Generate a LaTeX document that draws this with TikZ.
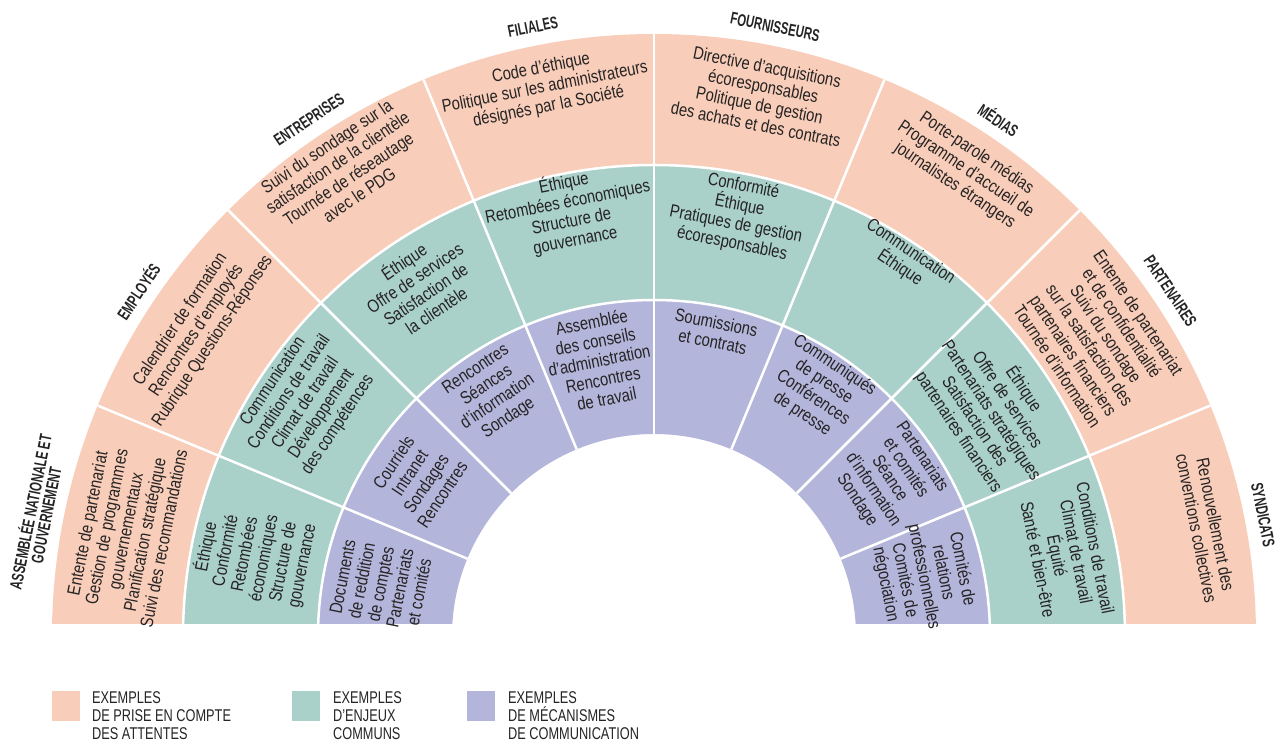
\documentclass[tikz,border=0pt]{standalone}
\usepackage{fontspec}
\setmainfont{Liberation Sans}[FakeStretch=0.82]
\newfontfamily\lblfont{Liberation Sans}[FakeStretch=0.67]
\newfontfamily\legfont{Liberation Sans}[FakeStretch=0.75]
\definecolor{peach}{HTML}{F8CDB9}
\definecolor{tealc}{HTML}{AAD0CA}
\definecolor{lav}{HTML}{B4B5DB}
\definecolor{ink}{HTML}{252323}
\begin{document}
\begin{tikzpicture}[x=1pt,y=1pt,
  txt/.style={align=center, text=ink, font=\fontsize{18}{19.5}\selectfont, inner sep=0pt},
  lbl/.style={align=center, text=ink, font=\lblfont\bfseries\fontsize{17}{16}\selectfont, inner sep=0pt},
  leg/.style={align=left, text=ink, font=\legfont\fontsize{17}{18}\selectfont, anchor=north west, inner sep=0pt},
  sepline/.style={white, line width=2.5pt},
  legbox/.style={minimum width=28pt, minimum height=30pt, inner sep=0pt, anchor=north west}]
\useasboundingbox (-654,-108) rectangle (631,636);
% rings
\begin{scope}
\clip (-620,12) rectangle (620,620);
\fill[peach] (0:602pt) arc[start angle=0,end angle=180,radius=602pt] -- (180:471pt) arc[start angle=180,end angle=0,radius=471pt] -- cycle;
\fill[tealc] (0:471pt) arc[start angle=0,end angle=180,radius=471pt] -- (180:336pt) arc[start angle=180,end angle=0,radius=336pt] -- cycle;
\fill[lav] (0:336pt) arc[start angle=0,end angle=180,radius=336pt] -- (180:202pt) arc[start angle=180,end angle=0,radius=202pt] -- cycle;
\foreach \a in {22.5,45,67.5,90,112.5,135,157.5}
  \draw[sepline] (\a:202pt) -- (\a:602pt);
\draw[sepline] (0:471pt) arc[start angle=0,end angle=180,radius=471pt];
\draw[sepline] (0:336pt) arc[start angle=0,end angle=180,radius=336pt];
\end{scope}
% outer ring texts
\node[txt, rotate=78.75] (p0) at (168.75:539pt) {Entente de partenariat\\Gestion de programmes\\gouvernementaux\\Planification stratégique\\Suivi des recommandations};
\node[txt, rotate=56.25] (p1) at (146.25:550pt) {Calendrier de formation\\Rencontres d’employés\\Rubrique Questions-Réponses};
\node[txt, rotate=33.75] (p2) at (123.75:560pt) {Suivi du sondage sur la\\satisfaction de la clientèle\\Tournée de réseautage\\avec le PDG};
\node[txt, rotate=11.25] (p3) at (101.25:559pt) {Code d’éthique\\Politique sur les administrateurs\\désignés par la Société};
\node[txt, rotate=-11.25] (p4) at (78.75:551pt) {Directive d’acquisitions\\écoresponsables\\Politique de gestion\\des achats et des contrats};
\node[txt, rotate=-33.75] (p5) at (56.25:561pt) {Porte-parole médias\\Programme d’accueil de\\journalistes étrangers};
\node[txt, rotate=-56.25] (p6) at (33.75:534pt) {Entente de partenariat\\et de confidentialité\\Suivi du sondage\\sur la satisfaction des\\partenaires financiers\\Tournée d’information};
\node[txt, rotate=-78.75] (p7) at (11.25:563pt) {Renouvellement des\\conventions collectives};
% middle ring texts
\node[txt, rotate=78.75] (t0) at (168.75:408pt) {Éthique\\Conformité\\Retombées\\économiques\\Structure de\\gouvernance};
\node[txt, rotate=56.25] (t1) at (146.25:419pt) {Communication\\Conditions de travail\\Climat de travail\\Développement\\des compétences};
\node[txt, rotate=33.75] (t2) at (123.75:422pt) {Éthique\\Offre de services\\Satisfaction de\\la clientèle};
\node[txt, rotate=11.25] (t3) at (101.25:433pt) {Éthique\\Retombées économiques\\Structure de\\gouvernance};
\node[txt, rotate=-11.25] (t4) at (78.75:429pt) {Conformité\\Éthique\\Pratiques de gestion\\écoresponsables};
\node[txt, rotate=-33.75] (t5) at (56.25:452pt) {Communication\\Éthique};
\node[txt, rotate=-56.25] (t6) at (33.75:406pt) {Éthique\\Offre de services\\Partenariats stratégiques\\Satisfaction des\\partenaires financiers};
\node[txt, rotate=-78.75] (t7) at (11.25:421pt) {Conditions de travail\\Climat de travail\\Équité\\Santé et bien-être};
% inner ring texts
\node[txt, rotate=78.75] (m0) at (169.3:278pt) {Documents\\de reddition\\de comptes\\Partenariats\\et comités};
\node[txt, rotate=56.25] (m1) at (146.25:284pt) {Courriels\\Intranet\\Sondages\\Rencontres};
\node[txt, rotate=33.75] (m2) at (123.75:291pt) {Rencontres\\Séances\\d’information\\Sondage};
\node[txt, rotate=11.25] (m3) at (101.25:281pt) {Assemblée\\des conseils\\d’administration\\Rencontres\\de travail};
\node[txt, rotate=-11.25] (m4) at (78.75:310pt) {Soumissions\\et contrats};
\node[txt, rotate=-33.75] (m5) at (56.25:296pt) {Communiqués\\de presse\\Conférences\\de presse};
\node[txt, rotate=-56.25] (m6) at (33.75:283pt) {Partenariats\\et comités\\Séance\\d’information\\Sondage};
\node[txt, rotate=-78.75] (m7) at (12.4:276pt) {Comités de\\relations\\professionnelles\\Comités de\\négociation};
% outer labels
\node[lbl, rotate=78.75] (l0) at (168.75:629pt) {ASSEMBLÉE NATIONALE ET\\GOUVERNEMENT};
\node[lbl, rotate=56.25] (l1) at (146.25:621pt) {EMPLOYÉS};
\node[lbl, rotate=33.75] (l2) at (123.75:621pt) {ENTREPRISES};
\node[lbl, rotate=11.25] (l3) at (101.25:621pt) {FILIALES};
\node[lbl, rotate=-11.25] (l4) at (78.75:621pt) {FOURNISSEURS};
\node[lbl, rotate=-33.75] (l5) at (56.25:621pt) {MÉDIAS};
\node[lbl, rotate=-56.25] (l6) at (33.75:621pt) {PARTENAIRES};
\node[lbl, rotate=-78.75] (l7) at (11.25:621pt) {SYNDICATS};
% legend
\node[legbox, fill=peach] (k1) at (-602,-55) {};
\node[leg] (k1t) at (-562,-55) {EXEMPLES\\DE PRISE EN COMPTE\\DES ATTENTES};
\node[legbox, fill=tealc] (k2) at (-362,-55) {};
\node[leg] (k2t) at (-321,-55) {EXEMPLES\\D’ENJEUX\\COMMUNS};
\node[legbox, fill=lav] (k3) at (-187,-55) {};
\node[leg] (k3t) at (-146,-55) {EXEMPLES\\DE MÉCANISMES\\DE COMMUNICATION};
\end{tikzpicture}
\end{document}
